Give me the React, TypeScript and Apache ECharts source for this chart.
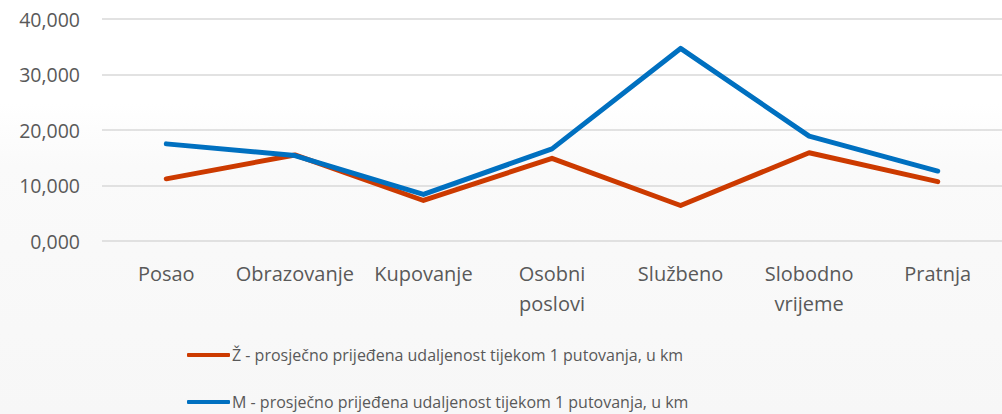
import React, { useEffect, useRef } from "react";
import * as echarts from "echarts";

const categories = ["Posao", "Obrazovanje", "Kupovanje", "Osobni\nposlovi", "Službeno", "Slobodno\nvrijeme", "Pratnja"];
const zValues = [11.2, 15.5, 7.3, 14.9, 6.4, 15.9, 10.7];
const mValues = [17.5, 15.4, 8.4, 16.6, 34.7, 18.9, 12.6];
const zName = "Ž - prosječno prijeđena udaljenost tijekom 1 putovanja, u km";
const mName = "M - prosječno prijeđena udaljenost tijekom 1 putovanja, u km";

export default function App() {
  const ref = useRef<HTMLDivElement>(null);
  useEffect(() => {
    document.body.style.margin = "0";
    const chart = echarts.init(ref.current!, null, { renderer: "svg" });
    const font = "'Open Sans', sans-serif";
    chart.setOption({
      animation: false,
      textStyle: { fontFamily: font },
      grid: { left: 102, top: 19, width: 909, height: 222, containLabel: false },
      xAxis: {
        type: "category",
        data: categories,
        boundaryGap: true,
        axisLine: { show: false },
        axisTick: { show: false },
        axisLabel: { color: "#595959", fontSize: 20, lineHeight: 30, margin: 17, fontFamily: font, interval: 0 },
      },
      yAxis: {
        type: "value",
        min: 0,
        max: 40,
        interval: 10,
        axisLine: { show: false },
        axisTick: { show: false },
        splitLine: { lineStyle: { color: "#d9d9d9", width: 1.5 } },
        axisLabel: {
          color: "#595959",
          fontSize: 19.5,
          margin: 22,
          fontFamily: font,
          formatter: (v: number) => (v === 0 ? "0,000" : `${v},000`),
        },
      },
      legend: {
        orient: "vertical",
        left: 187,
        top: 344,
        padding: 0,
        height: 70,
        itemWidth: 43,
        itemHeight: 4,
        itemGap: 25,
        icon: "roundRect",
        textStyle: { color: "#595959", fontSize: 16, fontFamily: font, padding: [0, 0, 0, -3], lineHeight: 22 },
        data: [zName, mName],
      },
      series: [
        {
          name: zName,
          type: "line",
          data: zValues,
          symbol: "none",
          lineStyle: { color: "#CC3A00", width: 5, cap: "round", join: "round" },
          itemStyle: { color: "#CC3A00" },
        },
        {
          name: mName,
          type: "line",
          data: mValues,
          symbol: "none",
          lineStyle: { color: "#0070C0", width: 5, cap: "round", join: "round" },
          itemStyle: { color: "#0070C0" },
        },
      ],
    });
    return () => chart.dispose();
  }, []);
  return (
    <div
      ref={ref}
      style={{ width: 1002, height: 414, background: "linear-gradient(#ffffff 0%, #ffffff 25%, #fafafa 40%, #f7f7f7 100%)" }}
    />
  );
}
